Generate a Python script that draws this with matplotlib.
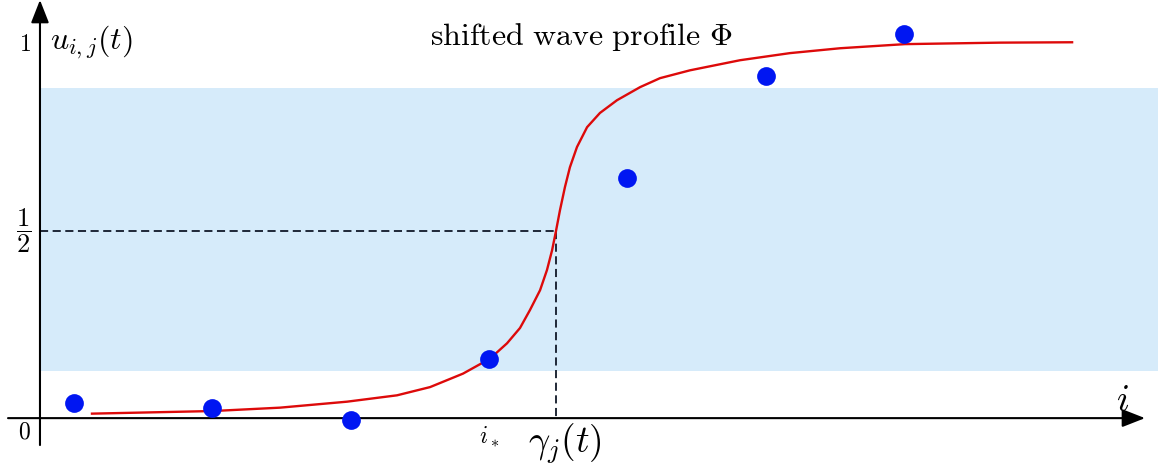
import matplotlib
matplotlib.use("Agg")
import matplotlib.pyplot as plt

plt.rcParams["mathtext.fontset"] = "cm"
plt.rcParams["font.family"] = "serif"
plt.rcParams["font.serif"] = ["DejaVu Serif"]

# sample points u_{i,j}(t)
idx = [0, 1, 2, 3, 4, 5, 6]
u_vals = [0.040, 0.027, -0.005, 0.158, 0.642, 0.914, 1.027]

# shifted wave profile
phi_x = [0.130, 1.005, 1.489, 1.974, 2.335, 2.574, 2.812, 3.007, 3.130, 3.224,
         3.296, 3.369, 3.419, 3.456, 3.484, 3.513, 3.549, 3.585, 3.636, 3.709,
         3.802, 3.925, 4.092, 4.236, 4.453, 4.815, 5.176, 5.538, 6.007, 6.694, 7.215]
phi_y = [0.012, 0.019, 0.028, 0.044, 0.061, 0.083, 0.119, 0.159, 0.200, 0.241,
         0.289, 0.342, 0.396, 0.449, 0.500, 0.556, 0.618, 0.671, 0.725, 0.778,
         0.816, 0.850, 0.885, 0.909, 0.930, 0.957, 0.976, 0.989, 1.000, 1.004, 1.005]

gamma = 3.484
i_star = 3.0
band = (0.126, 0.882)
y_axis_x = -0.246

fig = plt.figure(figsize=(11.58, 4.66), dpi=100)
ax = fig.add_axes([0, 0, 1, 1])
ax.set_xlim(-0.535, 7.836)
ax.set_ylim(-0.128, 1.118)
ax.axis("off")

# shaded band
ax.fill_between([y_axis_x, 7.836], band[0], band[1], color="#d6ebfa", lw=0, zorder=0)

# dashed guides
ax.plot([y_axis_x, gamma], [0.5, 0.5], ls=(0, (4.5, 2.5)), color="#101828", lw=1.3, zorder=2)
ax.plot([gamma, gamma], [0.5, 0], ls=(0, (4.5, 2.5)), color="#101828", lw=1.3, zorder=2)

# axes with arrows
arrow = dict(arrowstyle="-|>,head_length=1.4,head_width=0.55", color="black", lw=1.5,
             shrinkA=0, shrinkB=0)
ax.annotate("", xy=(7.742, 0), xytext=(-0.477, 0), arrowprops=arrow, zorder=3)
ax.annotate("", xy=(y_axis_x, 1.118), xytext=(y_axis_x, -0.072), arrowprops=arrow, zorder=3)

# profile and points
ax.plot(phi_x, phi_y, color="#dd0a0a", lw=1.7, zorder=4, solid_joinstyle="round")
ax.plot(idx, u_vals, "o", color="#0016f2", ms=13.5, mec="none", zorder=5)

# labels
ax.text(-0.31, 1.0, r"$1$", fontsize=17, ha="right", va="center")
ax.text(-0.31, -0.037, r"$0$", fontsize=17, ha="right", va="center")
ax.text(-0.31, 0.5, r"$\dfrac{1}{2}$", fontsize=19, ha="right", va="center")
ax.text(-0.17, 1.005, r"$u_{i,j}(t)$", fontsize=23, ha="left", va="center")
ax.text(3.665, 1.019, r"$\mathrm{shifted\ wave\ profile}\ \Phi$", fontsize=23,
        ha="center", va="center")
ax.text(7.58, 0.045, r"$i$", fontsize=27, ha="center", va="center")
ax.text(i_star, -0.05, r"$i_*$", fontsize=17, ha="center", va="center")
ax.text(3.55, -0.068, r"$\gamma_j(t)$", fontsize=27, ha="center", va="center")

fig.savefig("out.png", dpi=100)
